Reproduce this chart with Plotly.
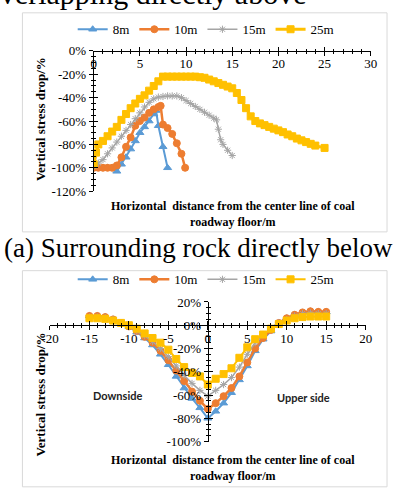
import plotly.graph_objects as go

# ---------------- data: top chart (a) ----------------
top_x_8m = [0, 0.5, 1, 1.5, 2, 2.5, 3, 3.5, 4, 4.5, 5, 5.5, 6, 6.5, 6.75, 7, 7.5, 8]
top_y_8m = [-100, -100, -100, -100, -100, -103, -97, -91, -84, -77, -70, -65, -60, -54, -51, -64, -82, -100]

top_x_10m = [0, 0.5, 1, 1.5, 2, 2.5, 3, 3.5, 4, 4.5, 5, 5.5, 6, 6.5, 7, 7.25, 7.5, 8, 8.5, 9, 9.5, 9.9]
top_y_10m = [-100, -100, -100, -100, -100, -98, -91, -82, -74, -64, -60, -57, -53, -50, -48, -47, -63, -66, -71, -79, -88, -100]

top_x_15m = [0, 0.5, 1, 1.5, 2, 2.5, 3, 3.5, 4, 4.5, 5, 5.5, 6, 6.5, 7, 7.5, 8, 8.5, 9,
             9.5, 10, 10.5, 11, 11.5, 12, 12.5, 13, 13.3, 13.5, 13.75, 14, 14.5, 15]
top_y_15m = [-99, -96, -93, -88, -83, -78, -73, -68, -63, -58, -53, -48, -44, -41, -39.5, -39, -38.5, -38.5, -38.5,
             -40, -42.5, -45, -47.5, -50, -52.5, -55, -57.5, -59, -67, -76, -80, -85, -89.5]

top_x_25m = [0, 0.25, 0.5, 1, 1.5, 2, 2.5, 3, 3.5, 4, 4.5, 5, 5.5, 6, 6.5, 7, 7.5, 8, 8.5, 9, 9.5, 10,
             10.5, 11, 11.5, 12, 12.5, 13, 13.5, 14, 14.5, 15, 15.5, 16, 16.5, 17, 17.5, 18, 18.5, 19,
             19.5, 20, 20.5, 21, 21.5, 22, 22.5, 23, 23.5, 24, 25]
top_y_25m = [-97, -87, -80, -77, -73, -69, -65, -59, -54, -49, -45, -41, -38, -34, -30, -26, -22, -22, -22, -22, -22, -22,
             -22, -22, -22.5, -23, -24.5, -26, -27.5, -29, -30.5, -32, -36, -42, -49, -56, -60, -62, -63.5, -65,
             -66.5, -68, -69.5, -71.5, -73, -75, -76.5, -78, -79.5, -81, -83]

# ---------------- data: bottom chart ----------------
bot_x = list(range(-15, 16))
bot_y_8m = [8, 8, 7, 5, 2, -1, -6, -11, -17, -25, -34, -44, -54, -63, -71, -80,
            -74, -67, -58, -47, -35, -22, -12, -5, 2, 6, 9, 11, 12, 11.5, 11.5]
bot_y_10m = [8, 8, 7, 5, 2, -1, -5, -10, -15, -22, -30, -39, -48, -57, -65, -72,
             -67, -61, -54, -44, -32, -20, -11, -4, 2, 6, 9, 11, 12, 11.5, 11.5]
bot_y_15m = [7, 7, 6.5, 5, 2, -1, -5, -9, -14, -20, -27, -35, -43, -50, -56, -61,
             -56, -51, -45, -36, -25, -15, -8, -3, 2, 5, 8, 10, 10.5, 10, 10]
bot_y_25m = [6, 6, 5.5, 4, 2, 0, -3, -7, -11, -15, -21, -29, -36, -41, -44, -51,
             -46, -42, -37, -28, -19, -12, -8, -3, 1, 4, 6, 7, 7.5, 7.5, 7.5]

series_names = ["8m", "10m", "15m", "25m"]
colors = ["#5B9BD5", "#ED7D31", "#A5A5A5", "#FFC000"]
symbols = ["triangle-up", "circle", "asterisk-open", "square"]
msizes = [7, 7, 6, 7]
lwidths = [2, 2.5, 1.5, 3]

top_tickvals_y = [0, -20, -40, -60, -80, -100, -120]
top_ticktext_y = ["0%", "-20%", "-40%", "-60%", "-80%", "-100%", "-120%"]
top_tickvals_x = [0, 5, 10, 15, 20, 25, 30]
bot_tickvals_y = [20, 0, -20, -40, -60, -80, -100]
bot_ticktext_y = ["20%", "0%", "-20%", "-40%", "-60%", "-80%", "-100%"]
bot_tickvals_x = [-20, -15, -10, -5, 0, 5, 10, 15, 20]
bot_ticktext_x = ["-20", "-15", "-10", "-5", "0", "5", "10", "15", "20"]

prev_caption = "(b) Overlapping directly above"

W, H = 395, 489
SERIF = "Liberation Serif, Times New Roman, DejaVu Serif, serif"
SANS = "Lato, Liberation Sans, sans-serif"


def px(x):
    return x / W


def py(y):
    return 1 - y / H


fig = go.Figure()

top_x = [top_x_8m, top_x_10m, top_x_15m, top_x_25m]
top_y = [top_y_8m, top_y_10m, top_y_15m, top_y_25m]
for i in range(4):
    fig.add_trace(go.Scatter(
        x=top_x[i], y=top_y[i], name=series_names[i], mode="lines+markers",
        line=dict(color=colors[i], width=lwidths[i]),
        marker=dict(symbol=symbols[i], size=msizes[i], color=colors[i],
                    line=dict(color=colors[i], width=1)),
        xaxis="x", yaxis="y", legend="legend"))

bot_y = [bot_y_8m, bot_y_10m, bot_y_15m, bot_y_25m]
for i in range(4):
    fig.add_trace(go.Scatter(
        x=bot_x, y=bot_y[i], name=series_names[i], mode="lines+markers",
        line=dict(color=colors[i], width=lwidths[i] if i != 3 else 2),
        marker=dict(symbol=symbols[i], size=msizes[i], color=colors[i],
                    line=dict(color=colors[i], width=1)),
        xaxis="x2", yaxis="y2", legend="legend2"))

# domains
top_xd = [px(88.3), px(377)]
top_yd = [py(190), py(45.3)]
bot_xd = [px(42.7), px(371.7)]
bot_yd = [py(448.3), py(304.3)]

tickfont = dict(family=SERIF, size=13, color="#000")
minor_common = dict(ticklen=2, tickcolor="#000", tickwidth=1, showgrid=False)


def axis_base(**kw):
    d = dict(showgrid=False, zeroline=False, showline=True, linecolor="#000", linewidth=1,
             tickcolor="#000", tickwidth=1, ticklen=4, tickfont=tickfont)
    d.update(kw)
    return d


bx_pos = bot_yd[0] + (bot_yd[1] - bot_yd[0]) * 100 / 120
by_pos = (bot_xd[0] + bot_xd[1]) / 2
hidden = dict(visible=False, showgrid=False, zeroline=False, showline=False, showticklabels=False)

layout = dict(
    width=W, height=H, margin=dict(l=0, r=0, t=0, b=0),
    paper_bgcolor="white", plot_bgcolor="rgba(0,0,0,0)",
    font=dict(family=SERIF, color="#000"),
    xaxis=axis_base(domain=top_xd, range=[0, 30], anchor="free", position=top_yd[1], side="bottom",
                    ticks="outside", tickvals=top_tickvals_x, ticklabelstandoff=-4,
                    minor=dict(ticks="outside", dtick=1, **minor_common)),
    yaxis=axis_base(domain=top_yd, range=[-120, 0], anchor="x", ticks="outside",
                    tickvals=top_tickvals_y, ticktext=top_ticktext_y,
                    minor=dict(ticks="outside", dtick=5, **minor_common)),
    xaxis3=dict(overlaying="x", range=[0, 30], anchor="free", position=top_yd[1], side="bottom",
                showline=False, showgrid=False, zeroline=False, showticklabels=False,
                ticks="inside", ticklen=4, tickcolor="#000", tickvals=top_tickvals_x,
                minor=dict(ticks="inside", dtick=1, **minor_common)),
    yaxis3=dict(overlaying="y", range=[-120, 0], anchor="x", showline=False, showgrid=False,
                zeroline=False, showticklabels=False, ticks="inside", ticklen=4, tickcolor="#000",
                tickvals=top_tickvals_y, minor=dict(ticks="inside", dtick=5, **minor_common)),
    xaxis2=axis_base(domain=bot_xd, range=[-20, 20], anchor="free", position=bx_pos, side="bottom",
                     ticks="outside", tickvals=bot_tickvals_x, ticktext=bot_ticktext_x,
                     ticklabelstandoff=-3,
                     minor=dict(ticks="outside", dtick=1, **minor_common)),
    yaxis2=axis_base(domain=bot_yd, range=[-100, 20], anchor="free", position=by_pos, ticks="outside",
                     tickvals=bot_tickvals_y, ticktext=bot_ticktext_y,
                     minor=dict(ticks="outside", dtick=5, **minor_common)),
    xaxis4=dict(overlaying="x2", range=[-20, 20], anchor="free", position=bx_pos, side="bottom",
                showline=False, showgrid=False, zeroline=False, showticklabels=False,
                ticks="inside", ticklen=4, tickcolor="#000", tickvals=bot_tickvals_x,
                minor=dict(ticks="inside", dtick=1, **minor_common)),
    yaxis4=dict(overlaying="y2", range=[-100, 20], anchor="free", position=by_pos,
                showline=False, showgrid=False, zeroline=False, showticklabels=False,
                ticks="inside", ticklen=4, tickcolor="#000", tickvals=bot_tickvals_y,
                minor=dict(ticks="inside", dtick=5, **minor_common)),
    # full-page pixel axes, used only to place the cut-off caption line at the top edge
    xaxis5=dict(domain=[0, 1], range=[0, W], anchor="y5", **hidden),
    yaxis5=dict(domain=[0, 1], range=[H, 0], anchor="x5", **hidden),
    legend=dict(orientation="h", x=px(205), y=py(23), xanchor="center", yanchor="middle",
                font=dict(family=SERIF, size=13), bgcolor="rgba(0,0,0,0)", itemwidth=30),
    legend2=dict(orientation="h", x=px(205), y=py(281), xanchor="center", yanchor="middle",
                 font=dict(family=SERIF, size=13), bgcolor="rgba(0,0,0,0)", itemwidth=30),
    showlegend=True,
)
fig.update_layout(**layout)

# invisible helper traces so the overlay (cross-tick) axes are drawn
fig.add_trace(go.Scatter(x=[0], y=[0], xaxis="x3", yaxis="y3", mode="markers",
                         marker=dict(opacity=0), showlegend=False, hoverinfo="skip"))
fig.add_trace(go.Scatter(x=[0], y=[0], xaxis="x4", yaxis="y4", mode="markers",
                         marker=dict(opacity=0), showlegend=False, hoverinfo="skip"))

# previous figure's caption line, mostly above the visible page (only descenders show);
# anchored at its right end inside the page so it is not hidden as out-of-range
fig.add_trace(go.Scatter(x=[310], y=[5], xaxis="x5", yaxis="y5", mode="text", text=[prev_caption],
                         textposition="top left", cliponaxis=False,
                         textfont=dict(family=SERIF, size=30, color="#000"),
                         showlegend=False, hoverinfo="skip"))

# chart frames
fig.add_shape(type="rect", xref="paper", yref="paper", x0=px(14), x1=px(394), y0=py(232), y1=py(6),
              line=dict(color="#D9D9D9", width=1), layer="below")
fig.add_shape(type="rect", xref="paper", yref="paper", x0=px(14), x1=px(394), y0=py(495), y1=py(272),
              line=dict(color="#D9D9D9", width=1), layer="below")

ann = []
# caption (a)
ann.append(dict(text="(a) Surrounding rock directly below", x=px(198), y=py(249), xanchor="center",
                yanchor="middle", font=dict(family=SERIF, size=27, color="#000")))
# top axis titles
ann.append(dict(text="<b>Vertical stress drop/%</b>", x=px(33), y=py(116), textangle=-90,
                xanchor="center", yanchor="middle", font=dict(family=SERIF, size=13, color="#000")))
ann.append(dict(text="<b>Horizontal  distance from the center line of coal<br>roadway floor/m</b>",
                x=px(233), y=py(213.5), xanchor="center", yanchor="middle", align="center",
                font=dict(family=SERIF, size=12, color="#000")))
# bottom axis titles
ann.append(dict(text="<b>Vertical stress drop/%</b>", x=px(33), y=py(400), textangle=-90,
                xanchor="center", yanchor="middle", font=dict(family=SERIF, size=13, color="#000")))
ann.append(dict(text="<b>Horizontal  distance from the center line of coal<br>roadway floor/m</b>",
                x=px(233), y=py(476), xanchor="center", yanchor="middle", align="center",
                font=dict(family=SERIF, size=12, color="#000")))
ann.append(dict(text="<b>Downside</b>", x=px(113), y=py(401), xanchor="center", yanchor="middle",
                font=dict(family=SANS, size=11, color="#222")))
ann.append(dict(text="<b>Upper side</b>", x=px(307), y=py(403), xanchor="center", yanchor="middle",
                font=dict(family=SANS, size=11, color="#222")))
for a in ann:
    a.update(xref="paper", yref="paper", showarrow=False)
fig.update_layout(annotations=ann)

fig.write_html("out.html")
